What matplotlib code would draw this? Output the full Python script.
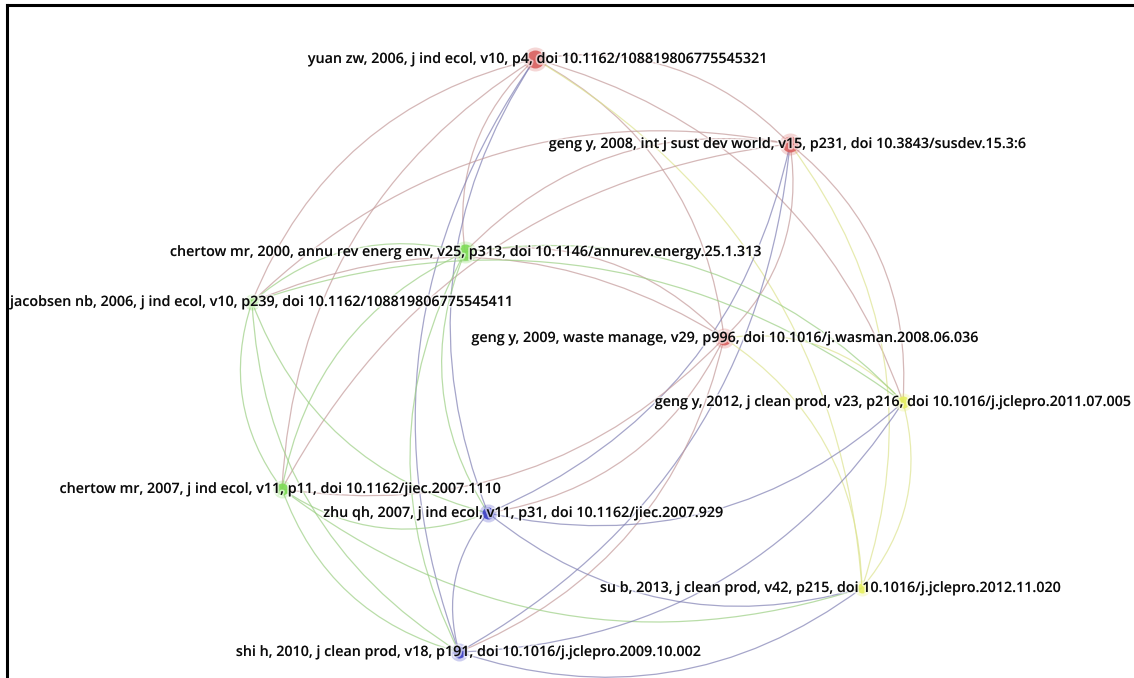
import matplotlib
matplotlib.use("Agg")
import matplotlib.pyplot as plt
import matplotlib.patheffects as pe
from matplotlib.path import Path
from matplotlib.patches import PathPatch
from matplotlib.lines import Line2D
import numpy as np

# ---- data ----
node_names = ["yuan", "geng2008", "chertow2000", "jacobsen", "geng2009",
              "geng2012", "chertow2007", "zhu", "su", "shi"]
node_labels = [
    "yuan zw, 2006, j ind ecol, v10, p4, doi 10.1162/108819806775545321",
    "geng y, 2008, int j sust dev world, v15, p231, doi 10.3843/susdev.15.3:6",
    "chertow mr, 2000, annu rev energ env, v25, p313, doi 10.1146/annurev.energy.25.1.313",
    "jacobsen nb, 2006, j ind ecol, v10, p239, doi 10.1162/108819806775545411",
    "geng y, 2009, waste manage, v29, p996, doi 10.1016/j.wasman.2008.06.036",
    "geng y, 2012, j clean prod, v23, p216, doi 10.1016/j.jclepro.2011.07.005",
    "chertow mr, 2007, j ind ecol, v11, p11, doi 10.1162/jiec.2007.1110",
    "zhu qh, 2007, j ind ecol, v11, p31, doi 10.1162/jiec.2007.929",
    "su b, 2013, j clean prod, v42, p215, doi 10.1016/j.jclepro.2012.11.020",
    "shi h, 2010, j clean prod, v18, p191, doi 10.1016/j.jclepro.2009.10.002",
]
node_x = [535, 790, 465, 252, 724, 903, 282, 488, 862, 459]
node_y = [59, 144, 252, 302, 338, 402, 489, 513, 588, 652]
node_cluster = [0, 0, 1, 1, 0, 3, 1, 2, 3, 2]
node_radius = [9, 8, 8, 5, 7, 6, 6, 6, 5, 6]

# label centres (pixels)
label_cx = [537, 787, 465, 250, 724, 895, 280, 523, 830, 468]

# links (first node gives the link colour)
edges = [
    ("yuan", "geng2008"), ("yuan", "chertow2000"), ("yuan", "jacobsen"),
    ("yuan", "chertow2007"), ("yuan", "geng2009"), ("zhu", "yuan"),
    ("shi", "yuan"), ("yuan", "geng2012"), ("su", "yuan"),
    ("geng2008", "geng2009"), ("geng2008", "chertow2000"), ("geng2008", "jacobsen"),
    ("geng2008", "geng2012"), ("su", "geng2008"), ("zhu", "geng2008"),
    ("shi", "geng2008"), ("geng2008", "chertow2007"),
    ("geng2009", "chertow2000"), ("geng2009", "jacobsen"), ("geng2012", "geng2009"),
    ("su", "geng2009"), ("geng2009", "shi"), ("geng2009", "zhu"),
    ("geng2009", "chertow2007"),
    ("chertow2000", "jacobsen"), ("chertow2000", "chertow2007"), ("chertow2000", "zhu"),
    ("chertow2000", "shi"), ("chertow2000", "geng2012"),
    ("jacobsen", "chertow2007"), ("jacobsen", "zhu"), ("jacobsen", "shi"),
    ("jacobsen", "geng2012"),
    ("chertow2007", "zhu"), ("chertow2007", "shi"), ("chertow2007", "su"),
    ("zhu", "shi"), ("zhu", "geng2012"), ("zhu", "su"),
    ("shi", "su"), ("shi", "geng2012"),
    ("geng2012", "su"),
]

node_colors = ["#d9605f", "#7ddc55", "#3b3fc4", "#e6ef5e"]
edge_colors = ["#c49a9a", "#9ccf84", "#8080b4", "#dde38f"]

# ---- figure ----
W, H = 1134, 678
fig = plt.figure(figsize=(W / 100, H / 100), dpi=100)
ax = fig.add_axes([0, 0, 1, 1])
ax.set_xlim(0, W)
ax.set_ylim(H, 0)
ax.axis("off")

idx = {n: i for i, n in enumerate(node_names)}
cx, cy = np.mean(node_x), np.mean(node_y)

for a, b in edges:
    i, j = idx[a], idx[b]
    p0 = np.array([node_x[i], node_y[i]], float)
    p1 = np.array([node_x[j], node_y[j]], float)
    mid = (p0 + p1) / 2
    d = p1 - p0
    perp = np.array([d[1], -d[0]])
    perp /= np.linalg.norm(perp)
    if np.dot(perp, mid - np.array([cx, cy])) < 0:
        perp = -perp
    ctrl = mid + perp * 0.26 * np.linalg.norm(d)
    path = Path([p0, ctrl, p1], [Path.MOVETO, Path.CURVE3, Path.CURVE3])
    ax.add_patch(PathPatch(path, facecolor="none",
                           edgecolor=edge_colors[node_cluster[i]],
                           lw=0.9, alpha=0.7, zorder=1))

for k in range(len(node_names)):
    c = node_colors[node_cluster[k]]
    r = node_radius[k]
    ax.scatter(node_x[k], node_y[k], s=(2 * (r + 3) * 0.72) ** 2, color=c,
               alpha=0.25, linewidths=0, zorder=3)
    ax.scatter(node_x[k], node_y[k], s=(2 * r * 0.72) ** 2, color=c,
               alpha=0.9, linewidths=0, zorder=3)

renderer = fig.canvas.get_renderer()
for k in range(len(node_names)):
    t = ax.text(label_cx[k], node_y[k], node_labels[k], ha="center", va="center",
                fontsize=10.3, family=["Open Sans", "DejaVu Sans"],
                weight="semibold", color="#0a0a0a", zorder=4,
                path_effects=[pe.withStroke(linewidth=2.5,
                                            foreground=(1, 1, 1, 0.6))])
    w = t.get_window_extent(renderer).width
    x = min(max(label_cx[k], 10 + w / 2), W - 4 - w / 2)
    t.set_x(x)

# frame lines (top and left)
fig.add_artist(Line2D([7 / W, 1], [1 - 5 / H, 1 - 5 / H], transform=fig.transFigure,
                      color="black", lw=2.2))
fig.add_artist(Line2D([7 / W, 7 / W], [0, 1 - 5 / H], transform=fig.transFigure,
                      color="black", lw=2.2))

fig.savefig("out.png", dpi=100, facecolor="white")
